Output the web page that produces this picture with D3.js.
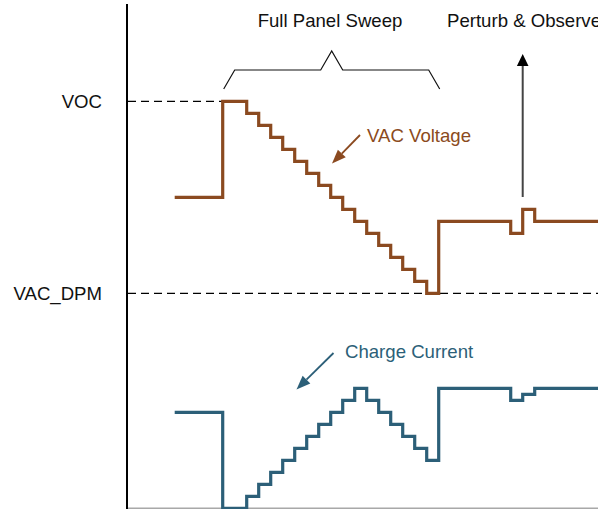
<!DOCTYPE html>
<html>
<head>
<meta charset="utf-8">
<script src="https://cdn.jsdelivr.net/npm/d3@7/dist/d3.min.js"></script>
<style>
  html, body { margin: 0; padding: 0; background: #fff; }
  svg { display: block; }
  text { font-family: "Liberation Sans", Arial, Helvetica, sans-serif; }
</style>
</head>
<body>
<script>
// Step times (in sweep-step units) and levels
const voltageTimes  = [-4, 0, 2, 3, 4, 5, 6, 7, 8, 9, 10, 11, 12, 13, 14, 15, 16, 17, 18, 24, 25, 26, 32];
const voltageLevels = [ 8, 16, 15, 14, 13, 12, 11, 10, 9, 8, 7, 6, 5, 4, 3, 2, 1, 0, 6, 5, 7, 6, 6];
const currentTimes  = [-4, 0, 2, 3, 4, 5, 6, 7, 8, 9, 10, 11, 12, 13, 14, 15, 16, 17, 18, 24, 25, 26, 32];
const currentLevels = [ 8, 0, 1, 2, 3, 4, 5, 6, 7, 8, 9, 10, 9, 8, 7, 6, 5, 4, 10, 9, 9.5, 10, 10];
const voltageRefs = [{label: "VOC", value: 16}, {label: "VAC_DPM", value: 0}];

const W = 598, H = 509;
const FS = 18.6;
const svg = d3.select("body").append("svg").attr("width", W).attr("height", H);

const x = d3.scaleLinear().domain([0, 18]).range([222.7, 438.7]);
const yV = d3.scaleLinear().domain([0, 16]).range([293.3, 101.3]);
const yI = d3.scaleLinear().domain([0, 10]).range([508.3, 388.3]);

const brown = "#8b4a20";
const teal = "#2c5f78";

// bottom axis
svg.append("line").attr("x1", 127).attr("x2", W).attr("y1", 508.3).attr("y2", 508.3)
  .attr("stroke", "#a8a8a8").attr("stroke-width", 1.6);

// reference dashed lines
svg.append("line").attr("x1", 128).attr("x2", x(0)).attr("y1", yV(16)).attr("y2", yV(16))
  .attr("stroke", "#000").attr("stroke-width", 1.2).attr("stroke-dasharray", "8,5");
svg.append("line").attr("x1", 128).attr("x2", W).attr("y1", yV(0)).attr("y2", yV(0))
  .attr("stroke", "#000").attr("stroke-width", 1.2).attr("stroke-dasharray", "8,5");

// reference labels
svg.selectAll("text.ref").data(voltageRefs).enter().append("text")
  .attr("class", "ref")
  .attr("x", 102).attr("y", d => yV(d.value) + 6.5)
  .attr("text-anchor", "end").attr("font-size", FS).attr("fill", "#111")
  .text(d => d.label);

// vertical axis
svg.append("line").attr("x1", 127).attr("x2", 127).attr("y1", 4).attr("y2", H)
  .attr("stroke", "#000").attr("stroke-width", 2);

const lineV = d3.line().x(d => x(d[0])).y(d => yV(d[1])).curve(d3.curveStepAfter);
const lineI = d3.line().x(d => x(d[0])).y(d => yI(d[1])).curve(d3.curveStepAfter);

svg.append("path").datum(d3.zip(voltageTimes, voltageLevels))
  .attr("d", lineV).attr("fill", "none").attr("stroke", brown).attr("stroke-width", 3.2)
  .attr("stroke-linejoin", "miter");
svg.append("path").datum(d3.zip(currentTimes, currentLevels))
  .attr("d", lineI).attr("fill", "none").attr("stroke", teal).attr("stroke-width", 3.2)
  .attr("stroke-linejoin", "miter");

// Brace over full sweep
const bx0 = x(0) + 1, bx1 = x(18) + 1, bmid = (bx0 + bx1) / 2;
svg.append("path")
  .attr("d", `M${bx0},89 L${bx0 + 11},70 L${bmid - 11},70 L${bmid},51 L${bmid + 11},70 L${bx1 - 11},70 L${bx1},89`)
  .attr("fill", "none").attr("stroke", "#111").attr("stroke-width", 1.2);

svg.append("text").attr("x", 330).attr("y", 27).attr("text-anchor", "middle")
  .attr("font-size", FS).attr("fill", "#111").text("Full Panel Sweep");
svg.append("text").attr("x", 447).attr("y", 27)
  .attr("font-size", FS).attr("fill", "#111").text("Perturb & Observe");

// Up arrow
const ax = x(25);
svg.append("line").attr("x1", ax).attr("x2", ax).attr("y1", 197).attr("y2", 62)
  .attr("stroke", "#444").attr("stroke-width", 2);
svg.append("path").attr("d", `M${ax},54 L${ax - 5.8},66 L${ax + 5.8},66 Z`).attr("fill", "#000");

// Annotation arrows
function arrow(x1, y1, x2, y2, color) {
  const ang = Math.atan2(y2 - y1, x2 - x1);
  const L = 14, Wd = 5.5;
  const bxp = x2 - L * Math.cos(ang), byp = y2 - L * Math.sin(ang);
  svg.append("line").attr("x1", x1).attr("y1", y1).attr("x2", bxp).attr("y2", byp)
    .attr("stroke", color).attr("stroke-width", 1.8);
  const px = -Math.sin(ang) * Wd, py = Math.cos(ang) * Wd;
  svg.append("path")
    .attr("d", `M${x2},${y2} L${bxp + px},${byp + py} L${bxp - px},${byp - py} Z`)
    .attr("fill", color);
}
arrow(360, 135, 332, 163.5, brown);
arrow(333.5, 353, 296.5, 389.5, teal);

svg.append("text").attr("x", 367).attr("y", 142).attr("font-size", FS).attr("fill", brown).text("VAC Voltage");
svg.append("text").attr("x", 345).attr("y", 358).attr("font-size", FS).attr("fill", teal).text("Charge Current");
</script>
</body>
</html>
